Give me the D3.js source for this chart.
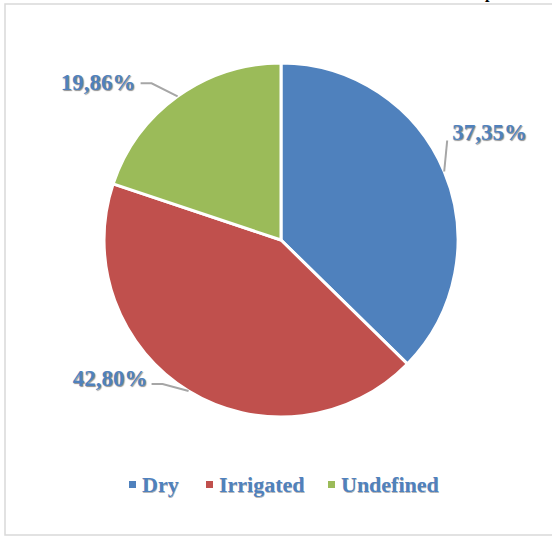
<!DOCTYPE html>
<html>
<head>
<meta charset="utf-8">
<script src="https://cdn.jsdelivr.net/npm/d3@7"></script>
<style>
  html, body { margin: 0; padding: 0; background: #fff; }
  svg { display: block; }
  text { font-family: "Liberation Serif", "Times New Roman", serif; font-weight: bold; }
</style>
</head>
<body>
<svg id="chart" width="552" height="537"></svg>
<script>
const categories = ["Dry", "Irrigated", "Undefined"];
const values = [37.35, 42.80, 19.86];
const palette = ["#4f81bd", "#c0504d", "#9bbb59"];

const W = 552, H = 537;
const cx = 281, cy = 240, R = 177;
const svg = d3.select("#chart");

// outer frame
svg.append("rect")
  .attr("x", 5).attr("y", 4).attr("width", 560).attr("height", 531)
  .attr("fill", "none").attr("stroke", "#d9d9d9").attr("stroke-width", 1.5);

// cropped glyph from text above the chart
svg.append("text").attr("x", 485).attr("y", -2)
  .attr("font-size", 16).attr("fill", "#000").attr("font-weight", "normal").text("p");

const color = d3.scaleOrdinal().domain(categories).range(palette);
const data = categories.map((c, i) => ({ cat: c, value: values[i] }));
const pie = d3.pie().sort(null).value(d => d.value);
const arcs = pie(data);
const arc = d3.arc().innerRadius(0).outerRadius(R);

const g = svg.append("g").attr("transform", `translate(${cx},${cy})`);
g.selectAll("path").data(arcs).enter().append("path")
  .attr("d", arc)
  .attr("fill", d => color(d.data.cat))
  .attr("stroke", "#fff").attr("stroke-width", 3).attr("stroke-linejoin", "round");

const fmt = v => d3.format(".2f")(v).replace(".", ",") + "%";
const edge = d => {
  const a = (d.startAngle + d.endAngle) / 2;
  return [Math.sin(a) * R, -Math.cos(a) * R];
};

// label layout (offsets relative to slice edge point)
const labelSpec = [
  { pts: [[3, -31]], tx: 8, ty: -31, anchor: "start" },
  { pts: [[-26, -7], [-37, -7]], tx: -41, ty: -5, anchor: "end" },
  { pts: [[-26, -13], [-37, -13]], tx: -42, ty: -6, anchor: "end" }
];

arcs.forEach((d, i) => {
  const [ex, ey] = edge(d);
  const s = labelSpec[i];
  const line = [[ex, ey]].concat(s.pts.map(p => [ex + p[0], ey + p[1]]));
  g.append("path")
    .attr("d", d3.line()(line))
    .attr("fill", "none").attr("stroke", "#a6a6a6").attr("stroke-width", 2);
  g.append("text")
    .attr("x", ex + s.tx).attr("y", ey + s.ty)
    .attr("text-anchor", s.anchor)
    .attr("font-size", 23)
    .attr("fill", "#4f81bd")
    .style("text-shadow", "1px 1px 1px rgba(0,0,0,0.45)")
    .text(fmt(d.data.value));
});

// legend
const legendX = [129, 206, 328];
const lg = svg.append("g");
categories.forEach((c, i) => {
  lg.append("rect").attr("x", legendX[i]).attr("y", 481).attr("width", 7).attr("height", 7)
    .attr("fill", color(c));
  lg.append("text").attr("x", legendX[i] + 13).attr("y", 492)
    .attr("font-size", 22).attr("fill", "#4f81bd")
    .style("text-shadow", "0.5px 0.5px 0.5px rgba(0,0,0,0.3)")
    .text(c);
});
</script>
</body>
</html>
